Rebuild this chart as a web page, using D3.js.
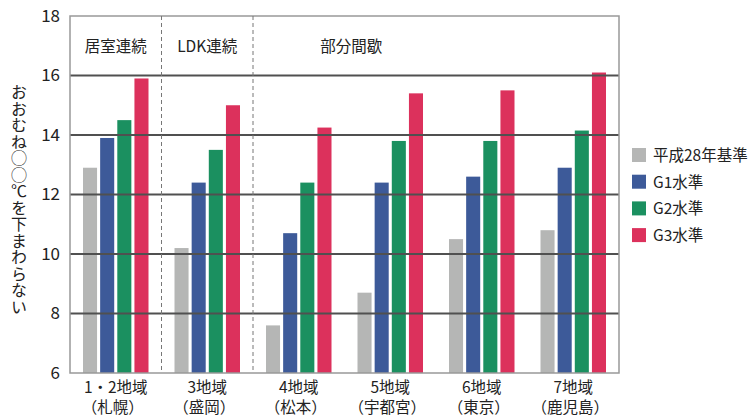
<!DOCTYPE html>
<html><head><meta charset="utf-8">
<script src="https://cdn.jsdelivr.net/npm/d3@7"></script>
<style>
body{margin:0;background:#fff;}
text{font-family:"Noto Sans CJK JP","Noto Sans",sans-serif;fill:#222;}
</style></head>
<body><svg id="c" width="751" height="416"></svg>
<script>
const regions = ["1・2地域","3地域","4地域","5地域","6地域","7地域"];
const cities = ["（札幌）","（盛岡）","（松本）","（宇都宮）","（東京）","（鹿児島）"];
const seriesNames = ["平成28年基準","G1水準","G2水準","G3水準"];
const h28 = [12.9,10.2,7.6,8.7,10.5,10.8];
const g1 = [13.9,12.4,10.7,12.4,12.6,12.9];
const g2 = [14.5,13.5,12.4,13.8,13.8,14.15];
const g3 = [15.9,15.0,14.25,15.4,15.5,16.1];
const yTicks = [6,8,10,12,14,16,18];
const sections = [{label:"居室連続",from:0,to:0},{label:"LDK連続",from:1,to:1},{label:"部分間歇",from:2,to:3.15}];
const yTitle = "おおむね◯◯℃を下まわらない";
const colors = ["#b5b6b5","#3d5a99","#1b9060","#dc315c"];

const series = [h28,g1,g2,g3];
const svg = d3.select("#c");
const L=70,R=619,T=16,B=373;
const x = d3.scaleBand().domain(d3.range(regions.length)).range([L,R]).paddingInner(0).paddingOuter(0);
const xi = d3.scaleBand().domain(d3.range(4)).range([13, x.bandwidth()-13]).paddingInner(0.18).paddingOuter(0);
const y = d3.scaleLinear().domain([6,18]).range([B,T]);

series.forEach((vals,si)=>{
  svg.append("g").selectAll("rect").data(vals).join("rect")
    .attr("x",(d,i)=>x(i)+xi(si)).attr("width",xi.bandwidth())
    .attr("y",d=>y(d)).attr("height",d=>y(6)-y(d)).attr("fill",colors[si]);
});

svg.append("g").selectAll("line").data(yTicks.filter(t=>t>6&&t<18)).join("line")
  .attr("x1",L).attr("x2",R).attr("y1",d=>y(d)).attr("y2",d=>y(d))
  .attr("stroke","#505050").attr("stroke-width",2);
svg.append("rect").attr("x",L).attr("y",T).attr("width",R-L).attr("height",B-T)
  .attr("fill","none").attr("stroke","#999").attr("stroke-width",1.5);
svg.append("g").selectAll("line").data([1,2]).join("line")
  .attr("x1",d=>x(d)).attr("x2",d=>x(d)).attr("y1",T).attr("y2",B)
  .attr("stroke","#777").attr("stroke-width",1).attr("stroke-dasharray","4,3");

const ya = d3.axisLeft(y).tickValues(yTicks).tickSize(0).tickPadding(10);
const yg = svg.append("g").attr("transform",`translate(${L},0)`).call(ya);
yg.select(".domain").remove();
yg.selectAll("text").attr("font-size",17).attr("font-family","Liberation Sans, Arial, sans-serif").style("fill","#222");

const xg = svg.append("g");
regions.forEach((r,i)=>{
  const cx = x(i)+x.bandwidth()/2;
  xg.append("text").attr("x",cx).attr("y",393).attr("text-anchor","middle").attr("font-size",15.5).text(r);
  xg.append("text").attr("x",cx-3).attr("y",413).attr("text-anchor","middle").attr("font-size",15.5).text(cities[i]);
});

sections.forEach(s=>{
  const cx = (x(s.from)+x(Math.floor(s.to))+x.bandwidth()*(1+ (s.to%1)))/2;
  svg.append("text").attr("x",cx).attr("y",52).attr("text-anchor","middle").attr("font-size",15.5).text(s.label);
});

svg.append("text").attr("x",19).attr("y",84)
  .style("writing-mode","vertical-rl").style("text-orientation","upright")
  .style("letter-spacing","0.5px")
  .attr("font-size",16).text(yTitle);

const lg = svg.append("g").attr("transform","translate(632,148)");
seriesNames.forEach((n,i)=>{
  lg.append("rect").attr("x",0).attr("y",i*26.7).attr("width",14).attr("height",14).attr("fill",colors[i]);
  lg.append("text").attr("x",21).attr("y",i*26.7+13).attr("font-size",15.5).text(n);
});
</script></body></html>
